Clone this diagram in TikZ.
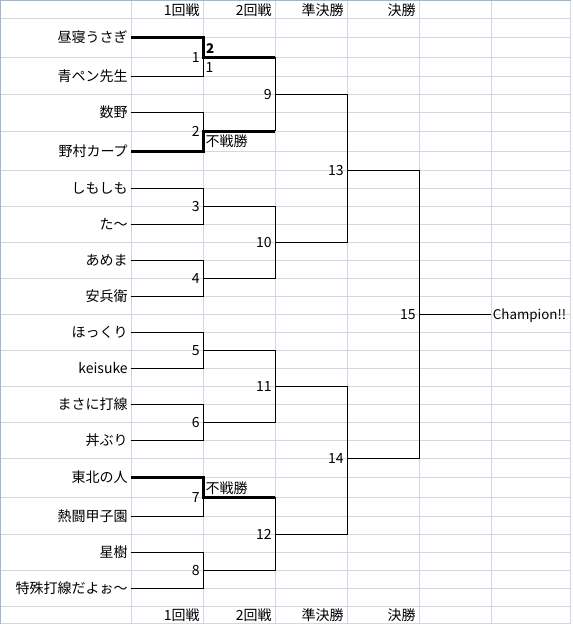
\documentclass[tikz,border=0pt]{standalone}
\usepackage{fontspec}
\setmainfont{Noto Sans CJK JP}
\usepackage{tikz}
\usetikzlibrary{positioning}
\definecolor{gridline}{RGB}{208,215,229}
\definecolor{gridframe}{RGB}{158,182,206}

\begin{document}
\begin{tikzpicture}[
    x=0.75pt, y=-0.75pt,
    font=\fontsize{10.5pt}{12pt}\selectfont,
    cellline/.style={draw=gridline, line width=0.75pt},
    sheetedge/.style={draw=gridframe, line width=0.75pt},
    player/.style={anchor=east, inner xsep=2.5pt, inner ysep=0pt, text height=9.2pt, text depth=1.3pt},
    hdr/.style={anchor=east, inner xsep=2.5pt, inner ysep=0pt, text height=9.2pt, text depth=1.3pt},
    num/.style={inner xsep=2.6pt, inner ysep=0pt, text height=7.6pt, text depth=0pt},
    note/.style={inner xsep=1.5pt, inner ysep=1.5pt},
    champ/.style={anchor=west, inner xsep=1pt, inner ysep=0pt, text height=7.7pt, text depth=0pt,
      font=\fontsize{10pt}{12pt}\selectfont},
    link/.style={draw=black, line width=0.75pt},
    winlink/.style={draw=black, line width=2.25pt}
]
  \useasboundingbox (0,0) rectangle (572,625);

  % Sheet columns and rows
  \coordinate (c0) at (0.5,0);   \coordinate (c1) at (131.3,0);
  \coordinate (c2) at (203.3,0); \coordinate (c3) at (275.3,0);
  \coordinate (c4) at (347.3,0); \coordinate (c5) at (419.3,0);
  \coordinate (c6) at (491.3,0); \coordinate (c7) at (570.7,0);
  \foreach \yy [count=\i from 0] in {0.5,18.3,37.3,57.3,76.7,94.7,112.7,131.3,151.7,
      170.7,188.7,206.7,224.3,242.3,260.3,278.3,296.3,314.3,332.3,350.3,368.3,
      386.3,404.3,422.3,440.3,458.7,477.3,497.3,516,534,552,570,588.3,606.3,623.7}
    \coordinate (r\i) at (0,\yy);

  % Grid
  \foreach \i in {1,...,33} \draw[cellline] (c1 |- r\i) -- (c7 |- r\i);
  \foreach \i in {1,3,...,33} \draw[cellline] (c0 |- r\i) -- (c1 |- r\i);
  \draw[cellline] (c0 |- r34) -- (c7 |- r34);
  \foreach \i in {1,...,7} \draw[cellline] (c\i |- r0) -- (c\i |- r34);
  \draw[sheetedge] (c0 |- r34) -- (c0 |- r0) -- (c7 |- r0);

  % Round headers
  \coordinate (top) at (0,10);
  \coordinate (bot) at (0,615.5);
  \node[hdr] (h1) at (c2 |- top) {1回戦};
  \node[hdr] (h2) at (c3 |- top) {2回戦};
  \node[hdr] (h3) at (c4 |- top) {準決勝};
  \node[hdr] (h4) at (c5 |- top) {決勝};
  \node[hdr] (f1) at (c2 |- bot) {1回戦};
  \node[hdr] (f2) at (c3 |- bot) {2回戦};
  \node[hdr] (f3) at (c4 |- bot) {準決勝};
  \node[hdr] (f4) at (c5 |- bot) {決勝};

  % Players
  \node[player] (p1)  at (c1 |- r2)  {昼寝うさぎ};
  \node[player] (p2)  at (c1 |- r4)  {青ペン先生};
  \node[player] (p3)  at (c1 |- r6)  {数野};
  \node[player] (p4)  at (c1 |- r8)  {野村カープ};
  \node[player] (p5)  at (c1 |- r10) {しもしも};
  \node[player] (p6)  at (c1 |- r12) {た～};
  \node[player] (p7)  at (c1 |- r14) {あめま};
  \node[player] (p8)  at (c1 |- r16) {安兵衛};
  \node[player] (p9)  at (c1 |- r18) {ほっくり};
  \node[player] (p10) at (c1 |- r20) {keisuke};
  \node[player] (p11) at (c1 |- r22) {まさに打線};
  \node[player] (p12) at (c1 |- r24) {丼ぶり};
  \node[player] (p13) at (c1 |- r26) {東北の人};
  \node[player] (p14) at (c1 |- r28) {熱闘甲子園};
  \node[player] (p15) at (c1 |- r30) {星樹};
  \node[player] (p16) at (c1 |- r32) {特殊打線だよぉ～};

  % Match points
  \coordinate (m1) at (c2 |- r3);  \coordinate (m2) at (c2 |- r7);
  \coordinate (m3) at (c2 |- r11); \coordinate (m4) at (c2 |- r15);
  \coordinate (m5) at (c2 |- r19); \coordinate (m6) at (c2 |- r23);
  \coordinate (m7) at (c2 |- r27); \coordinate (m8) at (c2 |- r31);
  \coordinate (m9) at (c3 |- r5);  \coordinate (m10) at (c3 |- r13);
  \coordinate (m11) at (c3 |- r21); \coordinate (m12) at (c3 |- r29);
  \coordinate (m13) at (c4 |- r9); \coordinate (m14) at (c4 |- r25);
  \coordinate (m15) at (c5 |- r17);

  % First round (winners' paths run on into round two)
  \draw[link] (p2.east) -| (m1);
  \draw[link] (p3.east) -| (m2);
  \draw[link] (p5.east) -| (m3);
  \draw[link] (p6.east) -| (m3);
  \draw[link] (p7.east) -| (m4);
  \draw[link] (p8.east) -| (m4);
  \draw[link] (p9.east) -| (m5);
  \draw[link] (p10.east) -| (m5);
  \draw[link] (p11.east) -| (m6);
  \draw[link] (p12.east) -| (m6);
  \draw[link] (p14.east) -| (m7);
  \draw[link] (p15.east) -| (m8);
  \draw[link] (p16.east) -| (m8);

  % Second round
  \draw[link] (m1 -| m9) -- (m2 -| m9);
  \draw[winlink] (p1.east) -| (m1) -- (m1 -| m9);
  \draw[winlink] (p4.east) -| (m2) -- (m2 -| m9);
  \draw[link] (m3) -| (m10);
  \draw[link] (m4) -| (m10);
  \draw[link] (m5) -| (m11);
  \draw[link] (m6) -| (m11);
  \draw[link] (m7 -| m12) -- (m12);
  \draw[winlink] (p13.east) -| (m7) -- (m7 -| m12);
  \draw[link] (m8) -| (m12);

  % Semi-finals and final
  \draw[link] (m9) -| (m13);
  \draw[link] (m10) -| (m13);
  \draw[link] (m11) -| (m14);
  \draw[link] (m12) -| (m14);
  \draw[link] (m13) -| (m15);
  \draw[link] (m14) -| (m15);
  \node[champ] (champ) at (c6 |- r17) {Champion!!};
  \draw[link] (m15) -- (champ.west);

  % Match numbers
  \node[num, left=0pt of m1] (n1) {1};
  \node[num, left=0pt of m2] (n2) {2};
  \node[num, left=0pt of m3] (n3) {3};
  \node[num, left=0pt of m4] (n4) {4};
  \node[num, left=0pt of m5] (n5) {5};
  \node[num, left=0pt of m6] (n6) {6};
  \node[num, left=0pt of m7] (n7) {7};
  \node[num, left=0pt of m8] (n8) {8};
  \node[num, left=0pt of m9] (n9) {9};
  \node[num, left=0pt of m10] (n10) {10};
  \node[num, left=0pt of m11] (n11) {11};
  \node[num, left=0pt of m12] (n12) {12};
  \node[num, left=0pt of m13] (n13) {13};
  \node[num, left=0pt of m14] (n14) {14};
  \node[num, left=0pt of m15] (n15) {15};

  % Scores and byes
  \node[note, font=\bfseries, above right=1.5pt and 0.5pt of m1] (s1w) {2};
  \node[note, below right=2.5pt and 0pt of m1] (s1l) {1};
  \node[note, below right=0.5pt and 0pt of m2] (bye2) {不戦勝};
  \node[note, above right=0.5pt and 0pt of m7] (bye7) {不戦勝};
\end{tikzpicture}
\end{document}
